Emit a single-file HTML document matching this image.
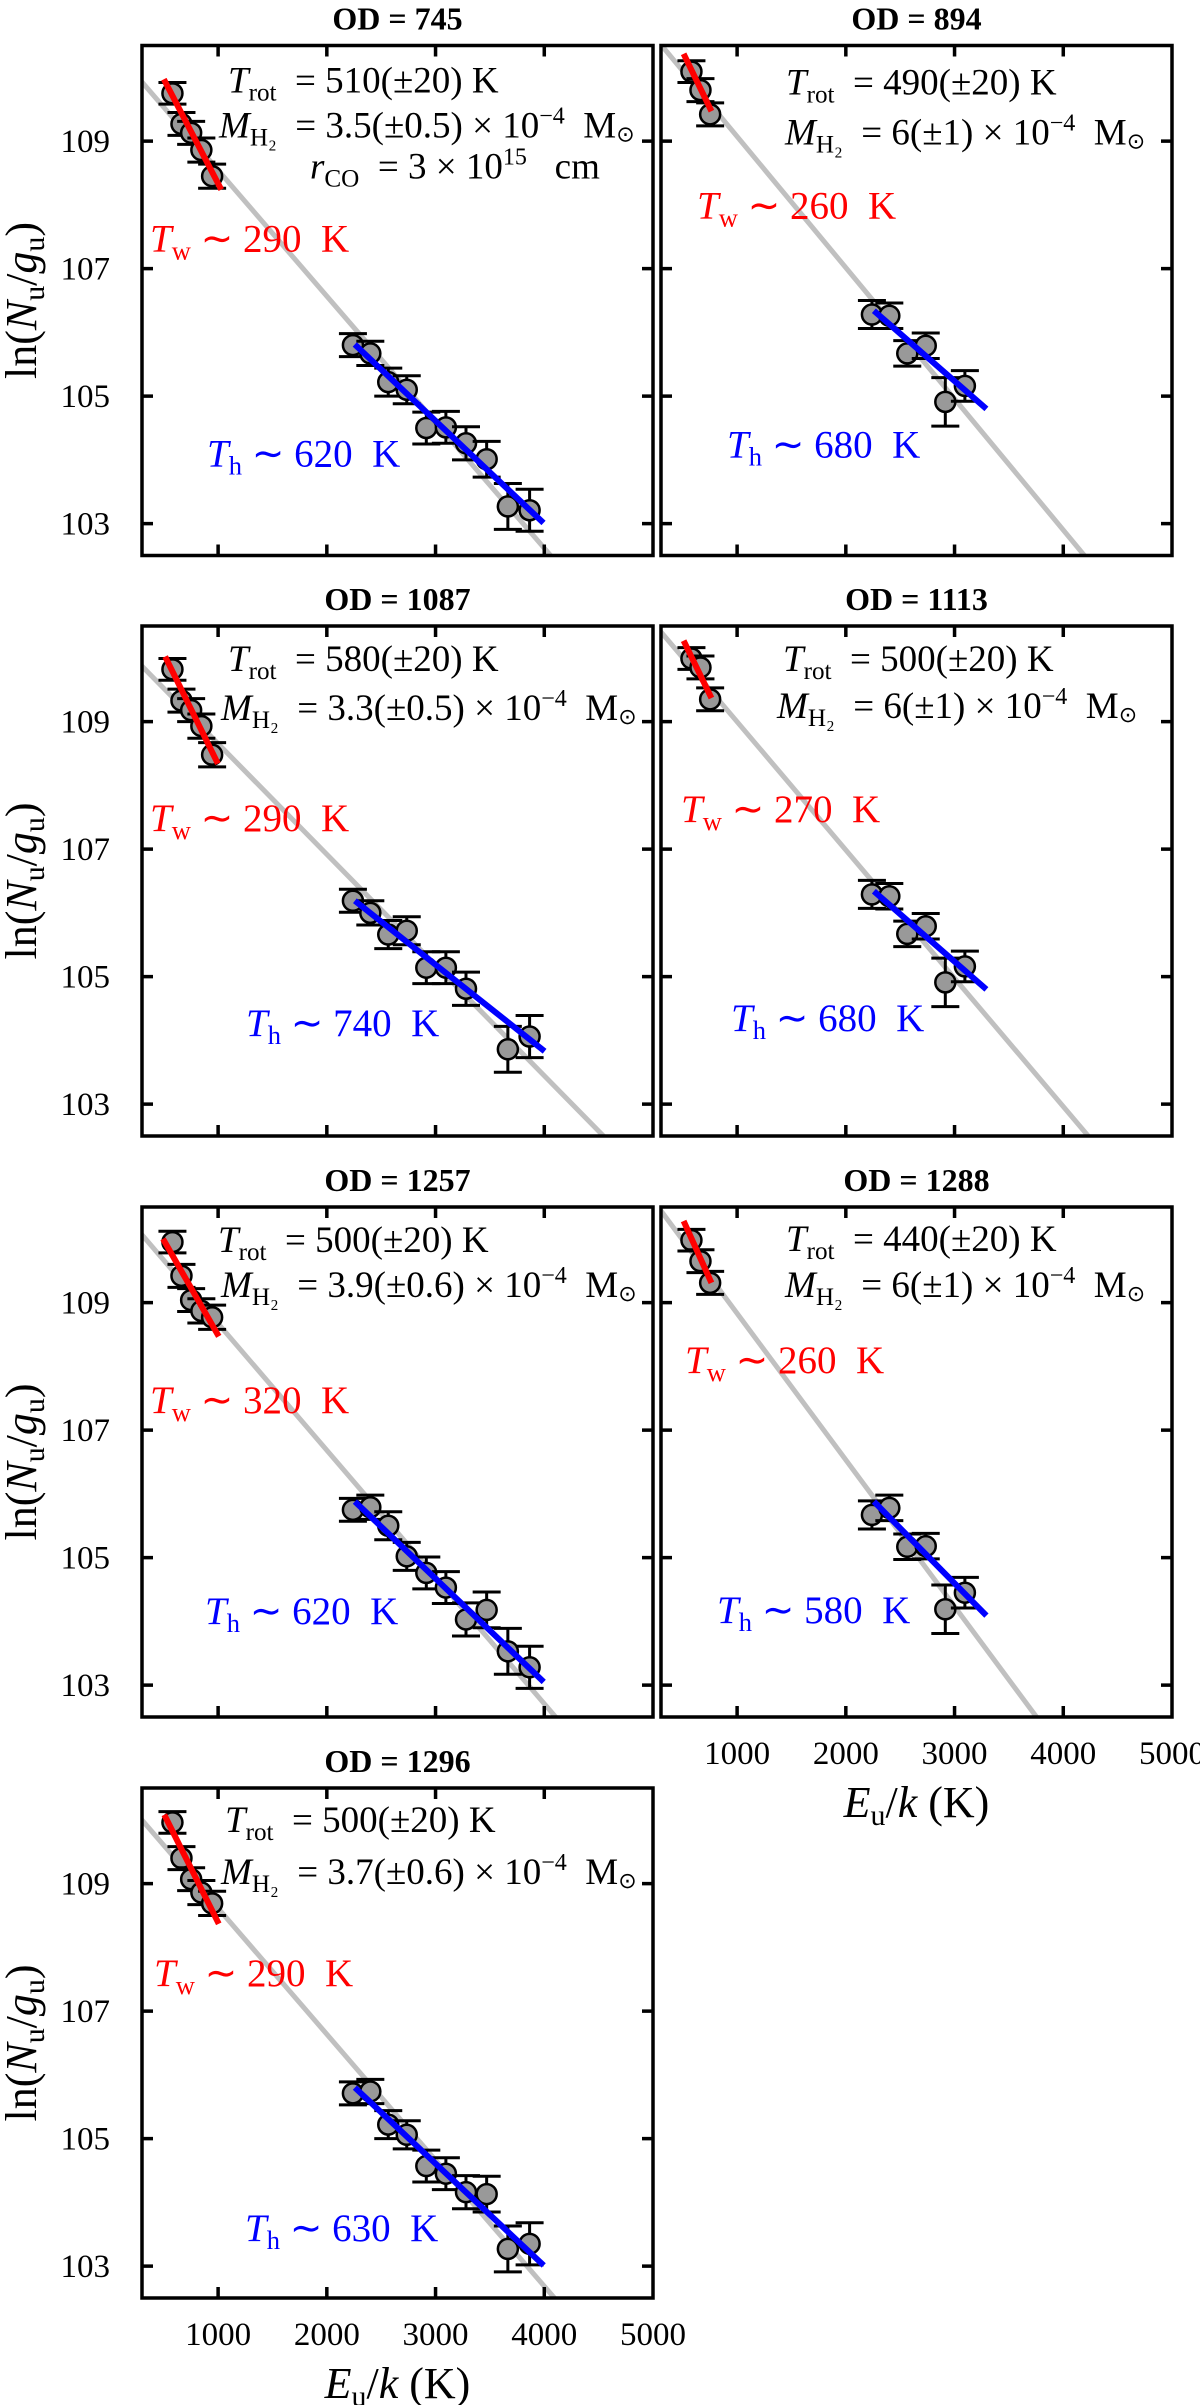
<!DOCTYPE html>
<html><head><meta charset="utf-8">
<style>
html,body{margin:0;padding:0;background:#fff;}
svg{display:block;font-family:"Liberation Serif",serif;}
</style></head>
<body>
<svg id="fig" width="1200" height="2405" viewBox="0 0 1200 2405" xmlns="http://www.w3.org/2000/svg"></svg>
<script>
// ---------- data ----------
const xTicks = [1000, 2000, 3000, 4000];
const xTickLabels = ["1000", "2000", "3000", "4000", "5000"];
const xTickLabelValues = [1000, 2000, 3000, 4000, 5000];
const yTicks = [103, 105, 107, 109];
const yTickLabels = ["103", "105", "107", "109"];
const warmE = [580, 663, 752, 846, 945];
const hotE = [2240, 2400, 2565, 2735, 2915, 3095, 3280, 3470, 3665, 3865];

const panelIds = ["745", "894", "1087", "1113", "1257", "1288", "1296"];

const warm745 = [109.75, 109.27, 109.13, 108.86, 108.45];
const hot745 = [105.80, 105.67, 105.22, 105.10, 104.50, 104.51, 104.26, 104.01, 103.27, 103.21];
const warm894 = [110.09, 109.80, 109.42, null, null];
const hot894 = [106.28, 106.26, 105.67, 105.79, 104.91, 105.16, null, null, null, null];
const warm1087 = [109.82, 109.33, 109.18, 108.93, 108.48];
const hot1087 = [106.19, 106.00, 105.66, 105.72, 105.14, 105.14, 104.81, null, 103.86, 104.06];
const warm1113 = [109.99, 109.85, 109.35, null, null];
const hot1113 = [106.29, 106.26, 105.67, 105.79, 104.91, 105.16, null, null, null, null];
const warm1257 = [109.95, 109.42, 109.04, 108.87, 108.77];
const hot1257 = [105.75, 105.79, 105.50, 105.02, 104.76, 104.53, 104.03, 104.18, 103.53, 103.28];
const warm1288 = [109.98, 109.65, 109.31, null, null];
const hot1288 = [105.67, 105.78, 105.17, 105.18, 104.19, 104.45, null, null, null, null];
const warm1296 = [109.96, 109.40, 109.07, 108.86, 108.69];
const hot1296 = [105.71, 105.74, 105.22, 105.06, 104.57, 104.45, 104.16, 104.13, 103.27, 103.35];

const warmErr = [0.17, 0.18, 0.18, 0.19, 0.19];
const hotErr = [0.18, 0.19, 0.22, 0.22, 0.25, 0.25, 0.26, 0.28, 0.36, 0.33];
const hotErrSparse = [0.22, 0.2, 0.2, 0.2, 0.38, 0.24, 0, 0, 0, 0];

// gray full fit: [T_rot, value at E=0]
const grayFits = [[506, 110.52], [486, 111.13], [576, 110.39], [497, 111.01], [503, 110.66], [435, 111.13], [506, 110.59]];
// red warm fit: [E0, v0, E1, v1]
const redFits = [[501, 109.97, 1029, 108.24], [508, 110.37, 764, 109.47], [513, 110.02, 998, 108.34], [508, 110.27, 764, 109.37], [493, 110.0, 1006, 108.47], [508, 110.28, 764, 109.31], [505, 110.08, 1006, 108.37]];
// blue hot fit
const blueFits = [[2257, 105.81, 3993, 103.01], [2258, 106.34, 3293, 104.80], [2258, 106.19, 4003, 103.83], [2258, 106.34, 3293, 104.80], [2258, 105.88, 3995, 103.05], [2258, 105.88, 3293, 104.09], [2258, 105.80, 3995, 103.01]];

const trotText = ["510", "490", "580", "500", "500", "440", "500"];
const massText = ["3.5(±0.5)", "6(±1)", "3.3(±0.5)", "6(±1)", "3.9(±0.6)", "6(±1)", "3.7(±0.6)"];
const twText = ["290", "260", "290", "270", "320", "260", "290"];
const thText = ["620", "680", "740", "680", "620", "580", "630"];

// ---------- layout (not data) ----------
const X_MIN = 300, X_MAX = 5000, Y_MIN = 102.5, Y_MAX = 110.5;
const PW = 511, PH = 510;
const colLeft = [142, 661];
const rowTop = [45.5, 626, 1207, 1788];
const panelPos = [[0,0],[1,0],[0,1],[1,1],[0,2],[1,2],[0,3]];
const labelPos = [
  [86,36, 77,81, 8,194, 65,409],
  [125,38, 124,88, 36,161, 66,400],
  [86,34, 79,83, 8,193, 104,398],
  [122,34, 116,81, 20,184, 70,393],
  [76,34, 79,79, 8,194, 63,405],
  [125,33, 124,79, 24,154, 56,404],
  [83,33, 79,85, 12,186, 103,441]
];

const svg = document.getElementById('fig');
const NS = "http://www.w3.org/2000/svg";
function mk(tag, attrs, parent) {
  const e = document.createElementNS(NS, tag);
  for (const k in attrs) e.setAttribute(k, attrs[k]);
  (parent || svg).appendChild(e);
  return e;
}

const sub = (t) => `<tspan font-size="0.68em" dy="8">${t}</tspan><tspan dy="-8"> </tspan>`;
const subT = (t) => `<tspan font-size="0.68em" dy="8">${t}</tspan><tspan dy="-8">`;

panelIds.forEach((id, i) => {
  const warm = eval('warm' + id);
  const hot = eval('hot' + id);
  const hErr = hot.filter(v => v !== null).length === 6 ? hotErrSparse : hotErr;
  const L = colLeft[panelPos[i][0]], T = rowTop[panelPos[i][1]];
  const sx = (E) => L + (E - X_MIN) / (X_MAX - X_MIN) * PW;
  const sy = (v) => T + (Y_MAX - v) / (Y_MAX - Y_MIN) * PH;

  const g = mk('g', {});
  
  

  const title = mk('text', {x: L + PW / 2, y: T - 16, 'text-anchor': 'middle', 'font-size': 32, 'font-weight': 'bold'}, g);
  
  
  title.textContent = 'OD = ' + id;

  const cp = mk('clipPath', {id: 'clip' + i}, g);
  mk('rect', {x: L, y: T, width: PW, height: PH}, cp);

  const plot = mk('g', {'clip-path': `url(#clip${i})`}, g);
  
  

  const gf = grayFits[i];
  const eEnd = (gf[1] - Y_MIN + 0.3) * gf[0];
  const gl = mk('line', {x1: sx(X_MIN - 200), y1: sy(gf[1] - (X_MIN - 200) / gf[0]), x2: sx(eEnd), y2: sy(gf[1] - eEnd / gf[0]), stroke: '#c0c0c0', 'stroke-width': 5}, plot);
  
  

  const drawPts = (Es, vals, errs, kind) => {
    vals.forEach((v, j) => {
      if (v === null) return;
      const cx = sx(Es[j]), cy = sy(v), e = errs[j];
      const eb = mk('path', {d: `M${cx},${sy(v + e)}V${sy(v - e)}M${cx - 14},${sy(v + e)}H${cx + 14}M${cx - 14},${sy(v - e)}H${cx + 14}`, stroke: '#000', 'stroke-width': 3, fill: 'none'}, plot);
      
      
      const c = mk('circle', {cx: cx, cy: cy, r: 10, fill: '#999', stroke: '#000', 'stroke-width': 2.5}, plot);
      
      
    });
  };
  drawPts(warmE, warm, warmErr, 'warm');
  drawPts(hotE, hot, hErr, 'hot');

  const rf = redFits[i];
  const rl = mk('line', {x1: sx(rf[0]), y1: sy(rf[1]), x2: sx(rf[2]), y2: sy(rf[3]), stroke: '#ff0000', 'stroke-width': 6}, plot);
  
  
  const bf = blueFits[i];
  const bl = mk('line', {x1: sx(bf[0]), y1: sy(bf[1]), x2: sx(bf[2]), y2: sy(bf[3]), stroke: '#0000ff', 'stroke-width': 6}, plot);
  
  

  const fr = mk('rect', {x: L, y: T, width: PW, height: PH, fill: 'none', stroke: '#000', 'stroke-width': 3.5}, g);
  
  
  let d = '';
  xTicks.forEach(E => { d += `M${sx(E)},${T}v11M${sx(E)},${T + PH}v-11`; });
  yTicks.forEach(v => { d += `M${L},${sy(v)}h11M${L + PW},${sy(v)}h-11`; });
  const tk = mk('path', {d: d, stroke: '#000', 'stroke-width': 3.5}, g);
  
  

  if (panelPos[i][0] === 0) {
    yTicks.forEach((v, j) => {
      const t = mk('text', {x: L - 32, y: sy(v) + 11, 'text-anchor': 'end', 'font-size': 33}, g);
      
      
      t.textContent = yTickLabels[j];
    });
    const yl = mk('text', {x: 0, y: 0, 'text-anchor': 'middle', 'font-size': 44, transform: `translate(36,${T + PH / 2}) rotate(-90)`}, g);
    
    
    yl.innerHTML = `ln(<tspan font-style="italic">N</tspan>${subT('u')}/<tspan font-style="italic">g</tspan></tspan>${subT('u')})</tspan>`;
  }
  if (id === '1288' || id === '1296') {
    xTickLabelValues.forEach((E, j) => {
      const t = mk('text', {x: sx(E), y: T + PH + 47, 'text-anchor': 'middle', 'font-size': 33}, g);
      
      
      t.textContent = xTickLabels[j];
    });
    const xl = mk('text', {x: L + PW / 2, y: T + PH + 100, 'text-anchor': 'middle', 'font-size': 44}, g);
    
    
    xl.innerHTML = `<tspan font-style="italic">E</tspan>${subT('u')}/<tspan font-style="italic">k</tspan> (K)</tspan>`;
  }

  const lp = labelPos[i];
  const t1 = mk('text', {x: L + lp[0], y: T + lp[1] + 11, 'font-size': 37}, g);
  
  
  t1.innerHTML = `<tspan font-style="italic">T</tspan>${sub('rot')}&#160;=&#160;${trotText[i]}(±20) K`;
  const t2 = mk('text', {x: L + lp[2], y: T + lp[3] + 11, 'font-size': 37}, g);
  
  
  t2.innerHTML = `<tspan font-style="italic">M</tspan>${sub('H₂')}&#160;=&#160;${massText[i]} × 10<tspan font-size="0.65em" dy="-14">−4</tspan><tspan dy="14">&#160; M</tspan><tspan font-size="0.6em" dy="4">⊙</tspan>`;
  if (id === '745') {
    const t3 = mk('text', {x: L + 168, y: T + 122 + 11, 'font-size': 37}, g);
    
    
    t3.innerHTML = `<tspan font-style="italic">r</tspan>${sub('CO')}&#160;=&#160;3 × 10<tspan font-size="0.65em" dy="-14">15</tspan><tspan dy="14">&#160;&#160; cm</tspan>`;
  }
  const t4 = mk('text', {x: L + lp[4], y: T + lp[5] + 12, 'font-size': 39, fill: '#ff0000'}, g);
  
  
  t4.innerHTML = `<tspan font-style="italic">T</tspan>${sub('w')}∼ ${twText[i]}&#160;&#160;K`;
  const t5 = mk('text', {x: L + lp[6], y: T + lp[7] + 12, 'font-size': 39, fill: '#0000ff'}, g);
  
  
  t5.innerHTML = `<tspan font-style="italic">T</tspan>${sub('h')}∼ ${thText[i]}&#160;&#160;K`;
});
</script>
</body></html>
